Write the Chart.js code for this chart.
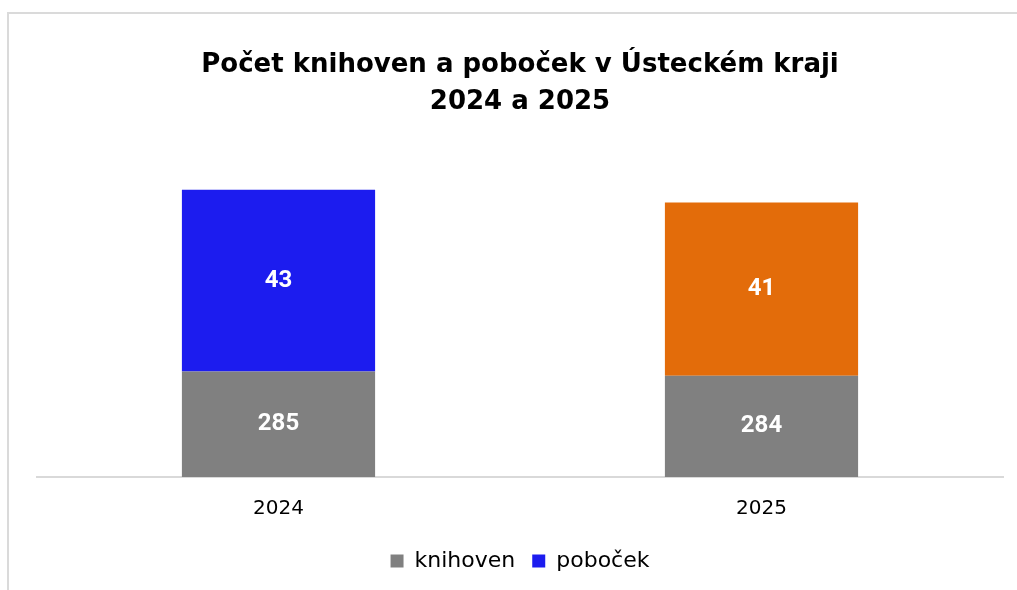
<!DOCTYPE html>
<html>
<head>
<meta charset="utf-8">
<script src="https://cdn.jsdelivr.net/npm/chart.js@4"></script>
<style>
  html, body { margin: 0; padding: 0; background: #fff; overflow: hidden; }
  #frame {
    position: absolute; left: 7px; top: 12px; width: 1100px; height: 700px;
    border: 2px solid #dadada; box-sizing: border-box;
  }
  #wrap { position: absolute; left: 0; top: 0; width: 1017px; height: 590px; }
</style>
</head>
<body>
<div id="frame"></div>
<div id="wrap"><canvas id="libraryChart"></canvas></div>
<script>
const years = ['2024', '2025'];
const knihoven = [285, 284];
const pobocek = [43, 41];
const pobocekColors = ['#1c1cef', '#e36c0a'];

// draws the value in the middle of every visible bar segment
const barLabels = {
  id: 'barLabels',
  afterDatasetsDraw(chart) {
    const ctx = chart.ctx;
    const bottom = chart.chartArea.bottom;
    ctx.save();
    ctx.fillStyle = '#ffffff';
    ctx.font = 'bold 24px Roboto';
    ctx.textAlign = 'center';
    ctx.textBaseline = 'middle';
    chart.data.datasets.forEach((ds, i) => {
      const meta = chart.getDatasetMeta(i);
      meta.data.forEach((bar, j) => {
        // axis does not start at 0, so clamp the base to the visible area
        const base = Math.min(bar.base, bottom);
        ctx.fillText(ds.data[j], bar.x, (bar.y + base) / 2);
      });
    });
    ctx.restore();
  },
};

const ctx = document.getElementById('libraryChart').getContext('2d');
new Chart(ctx, {
  type: 'bar',
  data: {
    labels: years,
    datasets: [
      {
        label: 'knihoven',
        data: knihoven,
        backgroundColor: '#808080',
      },
      {
        label: 'poboček',
        data: pobocek,
        // per-year colour, legend shows the first one
        backgroundColor: (c) => (c.type === 'data' ? pobocekColors[c.dataIndex] : pobocekColors[0]),
      },
    ],
  },
  options: {
    responsive: true,
    maintainAspectRatio: false,
    animation: false,
    layout: { padding: { left: 37, right: 14, top: 46, bottom: 8 } },
    datasets: {
      bar: { barPercentage: 0.4, categoryPercentage: 1.0 },
    },
    scales: {
      x: {
        stacked: true,
        grid: { display: false },
        border: { display: true, color: '#d9d9d9', width: 2 },
        ticks: { color: '#000', padding: 12, font: { family: '"DejaVu Sans"', size: 20 } },
      },
      y: {
        stacked: true,
        display: false,
        // the original axis does not start at zero
        min: 260,
        max: 330,
      },
    },
    plugins: {
      title: {
        display: true,
        text: ['Počet knihoven a poboček v Ústeckém kraji', '2024 a 2025'],
        color: '#000',
        font: { family: '"DejaVu Sans"', size: 26, weight: 'bold', lineHeight: 1.45 },
        padding: { top: 0, bottom: 60 },
      },
      legend: {
        position: 'bottom',
        labels: {
          color: '#000',
          boxWidth: 13,
          boxHeight: 13,
          padding: 17,
          font: { family: '"DejaVu Sans"', size: 22 },
        },
      },
      tooltip: { enabled: false },
    },
  },
  plugins: [barLabels],
});
</script>
</body>
</html>
